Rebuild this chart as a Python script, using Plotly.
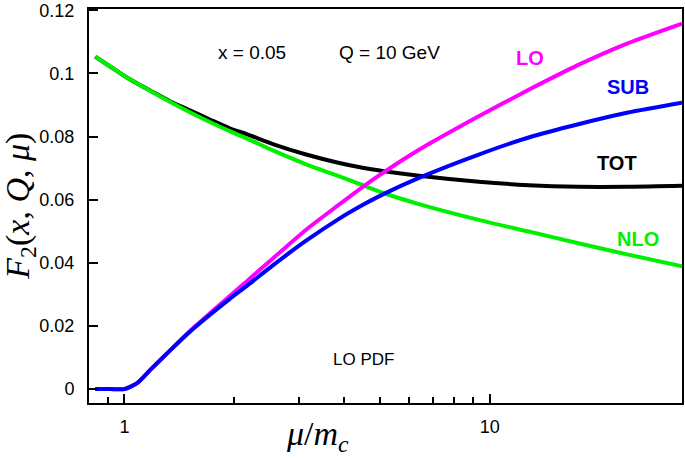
import plotly.graph_objects as go

# mu / m_c grid
mu = [0.832, 0.914, 1.0, 1.081, 1.175, 1.332, 1.511, 1.713, 1.943, 2.179, 2.549,
      3.144, 3.875, 4.485, 5.086, 6.404, 9.33, 12.78, 17.48, 23.93, 33.6]

f2_nlo = [0.1053, 0.1022, 0.0992, 0.0969, 0.0945, 0.0910, 0.0877, 0.0846, 0.0817,
          0.0792, 0.0756, 0.0712, 0.0674, 0.0646, 0.0622, 0.0586, 0.0536, 0.0499,
          0.0462, 0.0426, 0.0389]
f2_tot = [0.1053, 0.1022, 0.0992, 0.0969, 0.0946, 0.0912, 0.0883, 0.0854, 0.0826,
          0.0806, 0.0776, 0.0743, 0.0716, 0.0701, 0.0691, 0.0676, 0.0657, 0.0646,
          0.0641, 0.0641, 0.0644]
f2_lo = [0.0, 0.0, 0.0, 0.0018, 0.0060, 0.0122, 0.0184, 0.0240, 0.0295, 0.0345,
         0.0414, 0.0505, 0.0585, 0.0640, 0.0684, 0.0758, 0.0864, 0.0948, 0.1027,
         0.1096, 0.1158]
f2_sub = [0.0, 0.0, 0.0, 0.0018, 0.0060, 0.0122, 0.0182, 0.0235, 0.0286, 0.0330,
          0.0392, 0.0470, 0.0540, 0.0583, 0.0616, 0.0669, 0.0743, 0.0797, 0.0839,
          0.0876, 0.0907]

y_ticks = [0, 0.02, 0.04, 0.06, 0.08, 0.1, 0.12]
y_tick_text = ["0", "0.02", "0.04", "0.06", "0.08", "0.1", "0.12"]
x_major = [1, 10]
x_minor = [0.9, 2, 3, 4, 5, 6, 7, 8, 9]

fig = go.Figure()
fig.add_trace(go.Scatter(x=mu, y=f2_tot, mode="lines", name="TOT",
                         line=dict(color="black", width=4, shape="spline", smoothing=0.8)))
fig.add_trace(go.Scatter(x=mu, y=f2_nlo, mode="lines", name="NLO",
                         line=dict(color="#00f000", width=4, shape="spline", smoothing=0.8)))
fig.add_trace(go.Scatter(x=mu, y=f2_lo, mode="lines", name="LO",
                         line=dict(color="#ff00ff", width=4, shape="spline", smoothing=0.6)))
fig.add_trace(go.Scatter(x=mu, y=f2_sub, mode="lines", name="SUB",
                         line=dict(color="#0000ff", width=4, shape="spline", smoothing=0.6)))

tick_font = dict(family="Liberation Sans, Arial, sans-serif", size=18, color="black")

fig.update_layout(
    width=685, height=458,
    margin=dict(l=89, r=1, t=6, b=55),
    plot_bgcolor="white", paper_bgcolor="white",
    showlegend=False,
    xaxis=dict(type="log", range=[-0.0969, 1.5263], showgrid=False, zeroline=False,
               showline=True, linecolor="black", linewidth=2, mirror=True,
               tickmode="array", tickvals=x_major, ticktext=["1", "10"],
               ticks="inside", ticklen=9, tickwidth=1.5, tickcolor="black",
               tickfont=tick_font, ticklabelstandoff=6,
               minor=dict(tickmode="array", tickvals=x_minor, ticks="inside",
                          ticklen=6, tickwidth=1.5, tickcolor="black", showgrid=False)),
    yaxis=dict(range=[-0.0044, 0.1204], showgrid=False, zeroline=False,
               showline=True, linecolor="black", linewidth=2, mirror=True,
               tickmode="array", tickvals=y_ticks, ticktext=y_tick_text,
               ticks="inside", ticklen=9, tickwidth=1.5, tickcolor="black",
               tickfont=tick_font, ticklabelstandoff=9, ticklabeloverflow="allow"),
)

txt = dict(family="Liberation Sans, Arial, sans-serif", size=19, color="black")
bold = "Liberation Sans, Arial, sans-serif"
annos = [
    dict(text="x = 0.05", x=253, y=50, font=txt),
    dict(text="Q = 10 GeV", x=391, y=50, font=txt),
    dict(text="LO PDF", x=364, y=359, font=dict(family=bold, size=17, color="black")),
    dict(text="<b>LO</b>", x=531, y=55, font=dict(family=bold, size=20, color="#ff00ff")),
    dict(text="<b>SUB</b>", x=630, y=85, font=dict(family=bold, size=20, color="#0000ff")),
    dict(text="<b>TOT</b>", x=619, y=161, font=dict(family=bold, size=20, color="black")),
    dict(text="<b>NLO</b>", x=640, y=238, font=dict(family=bold, size=20, color="#00f000")),
]
for a in annos:
    fig.add_annotation(text=a["text"], xref="paper", yref="paper",
                       x=(a["x"] - 89) / 595, y=(403 - a["y"]) / 397,
                       xanchor="center", yanchor="middle", showarrow=False, font=a["font"])

serif = "Liberation Serif, Times New Roman, serif"
fig.add_annotation(text="<i>F</i><sub>2</sub>(<i>x</i>, <i>Q</i>, <i>μ</i>)",
                   xref="paper", yref="paper", x=(20 - 89) / 595, y=(403 - 205) / 397,
                   xanchor="center", yanchor="middle", textangle=-90, showarrow=False,
                   font=dict(family=serif, size=34, color="black"))
fig.add_annotation(text="<i>μ</i>/<i>m</i><sub><i>c</i></sub>",
                   xref="paper", yref="paper", x=(318 - 89) / 595, y=(403 - 436) / 397,
                   xanchor="center", yanchor="middle", showarrow=False,
                   font=dict(family=serif, size=34, color="black"))

fig.write_html("out.html", config={"displayModeBar": False},
               post_script="document.body.style.margin='0';document.body.style.overflow='hidden';")
